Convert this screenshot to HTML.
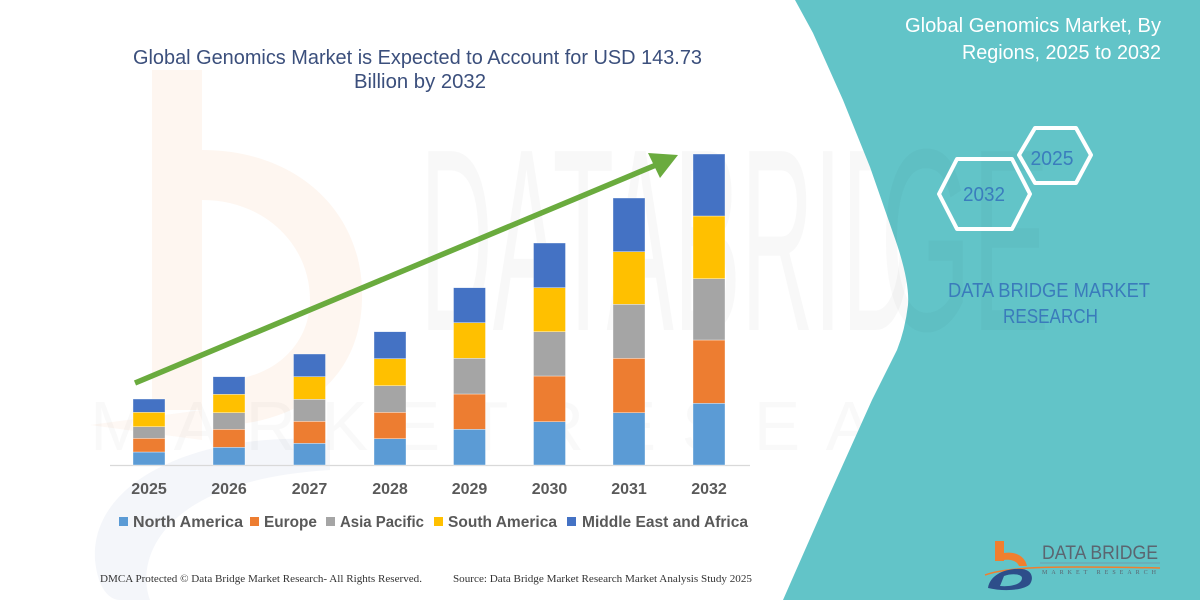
<!DOCTYPE html>
<html>
<head>
<meta charset="utf-8">
<style>
html,body{margin:0;padding:0;background:#fff;}
svg{display:block;}
</style>
</head>
<body>
<svg width="1200" height="600" viewBox="0 0 1200 600" xmlns="http://www.w3.org/2000/svg">
  <rect x="0" y="0" width="1200" height="600" fill="#ffffff"/>

  <!-- faint watermark: orange b -->
  <g opacity="0.4">
    <rect x="152" y="70" width="50" height="340" fill="#fde9da"/>
    <path d="M202,150 C300,150 365,215 362,300 C360,380 300,420 230,425 L230,380 C280,375 310,340 310,300 C310,245 265,200 202,200 Z" fill="#fde9da"/>
    <path d="M90,425 L202,410 L202,440 Z" fill="#fdeee4"/>
  </g>
  <!-- faint blue ring -->
  <path d="M330,440 C200,430 90,480 95,560 C98,590 110,600 120,600 L150,600 C135,560 160,480 330,470 Z" fill="#f1f4f9" opacity="0.8"/>

  <!-- faint DATA BRIDGE watermark text -->
  <text x="420" y="330" font-family="Liberation Sans, sans-serif" font-size="260" fill="#000" opacity="0.025" textLength="640" lengthAdjust="spacingAndGlyphs">DATABRIDGE</text>
  <text x="90" y="450" font-family="Liberation Sans, sans-serif" font-size="70" fill="#000" opacity="0.02" textLength="1010" lengthAdjust="spacing">MARKETRESEARCH</text>

  <!-- teal panel -->
  <path d="M795,0 L813,33 L843,100 L870,167 L893,233 Q910,280 908,305 Q905,330 897,350 L872,400 L827,500 L783,600 L1200,600 L1200,0 Z" fill="#62c4c8"/>
  <!-- faint watermark on teal -->
  <text x="880" y="330" font-family="Liberation Sans, sans-serif" font-size="260" fill="#000" opacity="0.018" textLength="170" lengthAdjust="spacingAndGlyphs">GE</text>

  <!-- Title -->
  <text x="133" y="64" font-family="Liberation Sans, sans-serif" font-size="20" fill="#3b4f7c" textLength="569" lengthAdjust="spacingAndGlyphs">Global Genomics Market is Expected to Account for USD 143.73</text>
  <text x="354" y="88" font-family="Liberation Sans, sans-serif" font-size="20" fill="#3b4f7c" textLength="132" lengthAdjust="spacingAndGlyphs">Billion by 2032</text>

  <!-- Right title -->
  <text x="905" y="32" font-family="Liberation Sans, sans-serif" font-size="20" fill="#ffffff" textLength="256" lengthAdjust="spacingAndGlyphs">Global Genomics Market, By</text>
  <text x="962" y="59" font-family="Liberation Sans, sans-serif" font-size="20" fill="#ffffff" textLength="199" lengthAdjust="spacingAndGlyphs">Regions, 2025 to 2032</text>

  <!-- hexagons -->
  <polygon points="939,194 957,159 1012,159 1030,194 1012,229 957,229" fill="none" stroke="#ffffff" stroke-width="4" stroke-linejoin="round"/>
  <polygon points="1019,155 1035,128 1076,128 1091,155 1076,183 1035,183" fill="none" stroke="#ffffff" stroke-width="4" stroke-linejoin="round"/>
  <text x="984" y="201" text-anchor="middle" font-family="Liberation Sans, sans-serif" font-size="20" fill="#3a7dbd" textLength="42" lengthAdjust="spacingAndGlyphs">2032</text>
  <text x="1052" y="165" text-anchor="middle" font-family="Liberation Sans, sans-serif" font-size="20" fill="#3a7dbd" textLength="43" lengthAdjust="spacingAndGlyphs">2025</text>

  <!-- DATA BRIDGE MARKET RESEARCH -->
  <text x="948" y="297" font-family="Liberation Sans, sans-serif" font-size="20" fill="#3a7bbb" textLength="202" lengthAdjust="spacingAndGlyphs">DATA BRIDGE MARKET</text>
  <text x="1003" y="323" font-family="Liberation Sans, sans-serif" font-size="20" fill="#3a7bbb" textLength="95" lengthAdjust="spacingAndGlyphs">RESEARCH</text>

  <!-- axis line -->
  <line x1="110" y1="465.5" x2="750" y2="465.5" stroke="#d9d9d9" stroke-width="1.2"/>

  <!-- bars -->
  <g stroke="#ffffff" stroke-width="0.6" stroke-opacity="0.6">
    <rect x="133" y="452" width="32" height="13" fill="#5b9bd5"/>
    <rect x="133" y="438.3" width="32" height="13.7" fill="#ed7d31"/>
    <rect x="133" y="426.7" width="32" height="11.6" fill="#a5a5a5"/>
    <rect x="133" y="412.3" width="32" height="14.4" fill="#ffc000"/>
    <rect x="133" y="399" width="32" height="13.3" fill="#4472c4"/>
    <rect x="213" y="447.3" width="32" height="17.7" fill="#5b9bd5"/>
    <rect x="213" y="429.3" width="32" height="18" fill="#ed7d31"/>
    <rect x="213" y="412.7" width="32" height="16.6" fill="#a5a5a5"/>
    <rect x="213" y="394.3" width="32" height="18.4" fill="#ffc000"/>
    <rect x="213" y="376.7" width="32" height="17.6" fill="#4472c4"/>
    <rect x="293.5" y="443.3" width="32" height="21.7" fill="#5b9bd5"/>
    <rect x="293.5" y="421.3" width="32" height="22" fill="#ed7d31"/>
    <rect x="293.5" y="399.3" width="32" height="22" fill="#a5a5a5"/>
    <rect x="293.5" y="376.7" width="32" height="22.6" fill="#ffc000"/>
    <rect x="293.5" y="354" width="32" height="22.7" fill="#4472c4"/>
    <rect x="374" y="438.7" width="32" height="26.3" fill="#5b9bd5"/>
    <rect x="374" y="412.3" width="32" height="26.4" fill="#ed7d31"/>
    <rect x="374" y="385.7" width="32" height="26.6" fill="#a5a5a5"/>
    <rect x="374" y="358.7" width="32" height="27" fill="#ffc000"/>
    <rect x="374" y="331.7" width="32" height="27" fill="#4472c4"/>
    <rect x="453.5" y="429.3" width="32" height="35.7" fill="#5b9bd5"/>
    <rect x="453.5" y="394" width="32" height="35.3" fill="#ed7d31"/>
    <rect x="453.5" y="358.3" width="32" height="35.7" fill="#a5a5a5"/>
    <rect x="453.5" y="322.7" width="32" height="35.6" fill="#ffc000"/>
    <rect x="453.5" y="287.7" width="32" height="35" fill="#4472c4"/>
    <rect x="533.5" y="421.7" width="32" height="43.3" fill="#5b9bd5"/>
    <rect x="533.5" y="376" width="32" height="45.7" fill="#ed7d31"/>
    <rect x="533.5" y="331.7" width="32" height="44.3" fill="#a5a5a5"/>
    <rect x="533.5" y="287.7" width="32" height="44" fill="#ffc000"/>
    <rect x="533.5" y="243" width="32" height="44.7" fill="#4472c4"/>
    <rect x="613" y="412.7" width="32" height="52.3" fill="#5b9bd5"/>
    <rect x="613" y="358.3" width="32" height="54.4" fill="#ed7d31"/>
    <rect x="613" y="304.3" width="32" height="54" fill="#a5a5a5"/>
    <rect x="613" y="251.7" width="32" height="52.6" fill="#ffc000"/>
    <rect x="613" y="198" width="32" height="53.7" fill="#4472c4"/>
    <rect x="693" y="403.3" width="32" height="61.7" fill="#5b9bd5"/>
    <rect x="693" y="340" width="32" height="63.3" fill="#ed7d31"/>
    <rect x="693" y="278.7" width="32" height="61.3" fill="#a5a5a5"/>
    <rect x="693" y="216" width="32" height="62.7" fill="#ffc000"/>
    <rect x="693" y="154" width="32" height="62" fill="#4472c4"/>
  </g>

  <!-- green arrow -->
  <line x1="135" y1="383" x2="656" y2="165" stroke="#6aab3e" stroke-width="5.5"/>
  <polygon points="678,155 648,153 660,178" fill="#6aab3e"/>

  <!-- year labels -->
  <g font-family="Liberation Sans, sans-serif" font-size="16" font-weight="bold" fill="#595959" text-anchor="middle">
    <text x="149" y="494">2025</text>
    <text x="229" y="494">2026</text>
    <text x="309.5" y="494">2027</text>
    <text x="390" y="494">2028</text>
    <text x="469.5" y="494">2029</text>
    <text x="549.5" y="494">2030</text>
    <text x="629" y="494">2031</text>
    <text x="709" y="494">2032</text>
  </g>

  <!-- legend -->
  <rect x="119" y="517" width="9" height="9" fill="#5b9bd5"/>
  <rect x="250" y="517" width="9" height="9" fill="#ed7d31"/>
  <rect x="326" y="517" width="9" height="9" fill="#a5a5a5"/>
  <rect x="434" y="517" width="9" height="9" fill="#ffc000"/>
  <rect x="567" y="517" width="9" height="9" fill="#4472c4"/>
  <g font-family="Liberation Sans, sans-serif" font-size="16" font-weight="bold" fill="#595959">
    <text x="133" y="527" textLength="110" lengthAdjust="spacingAndGlyphs">North America</text>
    <text x="264" y="527" textLength="53" lengthAdjust="spacingAndGlyphs">Europe</text>
    <text x="340" y="527" textLength="84" lengthAdjust="spacingAndGlyphs">Asia Pacific</text>
    <text x="448" y="527" textLength="109" lengthAdjust="spacingAndGlyphs">South America</text>
    <text x="582" y="527" textLength="166" lengthAdjust="spacingAndGlyphs">Middle East and Africa</text>
  </g>

  <!-- footer -->
  <text x="100" y="582" font-family="Liberation Serif, serif" font-size="10.5" fill="#333333" textLength="322" lengthAdjust="spacingAndGlyphs">DMCA Protected © Data Bridge Market Research-  All Rights Reserved.</text>
  <text x="453" y="582" font-family="Liberation Serif, serif" font-size="10.5" fill="#333333" textLength="299" lengthAdjust="spacingAndGlyphs">Source: Data Bridge Market Research  Market Analysis Study 2025</text>

  <!-- bottom-right logo -->
  <g>
    <rect x="995" y="541" width="9" height="20" fill="#f07f2e"/>
    <path d="M1004,553 C1015,551 1025,556 1027,566 L1019,566 C1017,561 1011,559 1004,560 Z" fill="#f07f2e"/>
    <path d="M985,575 C1010,566 1060,566 1160,568" fill="none" stroke="#f07f2e" stroke-width="1.5"/>
    <path d="M988,588 C990,575 1005,568 1022,569 C1032,570 1034,578 1030,584 C1025,590 1005,592 988,588 Z M1004,576 L1000,586 C1012,587 1022,584 1022,578 C1022,574 1012,573 1004,576 Z" fill="#2d4e8a" fill-rule="evenodd"/>
    <text x="1042" y="559" font-family="Liberation Sans, sans-serif" font-size="19" fill="#5b6570" textLength="116" lengthAdjust="spacingAndGlyphs">DATA BRIDGE</text>
    <line x1="1040" y1="563" x2="1160" y2="563" stroke="#7a8fa0" stroke-width="0.8"/>
    <text x="1042" y="574" font-family="Liberation Serif, serif" font-size="6" fill="#5b6570" textLength="114" lengthAdjust="spacing">MARKET RESEARCH</text>
  </g>
</svg>
</body>
</html>
